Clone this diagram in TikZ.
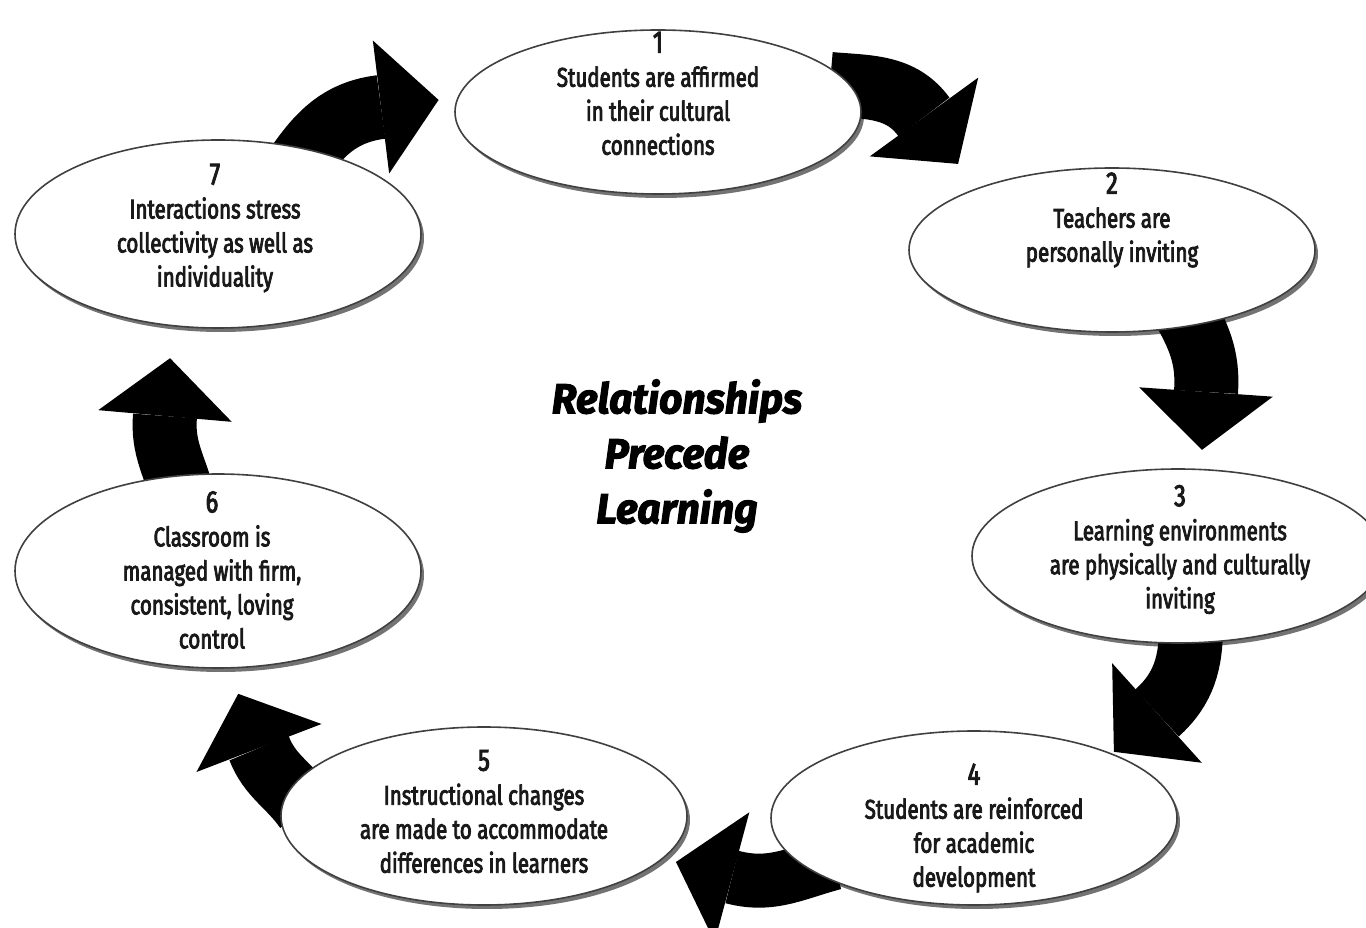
\documentclass[tikz,border=0pt]{standalone}
\usepackage{fontspec}
\setmainfont{Fira Sans}[FakeStretch=0.76,FakeBold=3]
\newfontfamily\titlefont{Fira Sans}[FakeStretch=0.97,FakeBold=2.5]
\usetikzlibrary{arrows.meta,shapes.geometric,shadows,calc}
\pgfdeclarelayer{background}
\pgfsetlayers{background,main}
\definecolor{rimgray}{gray}{0.25}
\newcommand\stagenum[1]{{\fontsize{31}{34}\selectfont #1}}

\tikzset{
  stage/.style={ellipse, draw=rimgray, line width=1.6pt, fill=white, inner sep=0pt,
    minimum width=406pt, drop shadow={shadow xshift=3pt, shadow yshift=-4pt, fill=black, opacity=0.55}},
  stagetext/.style={align=center, text=black!90, font=\fontsize{27}{34}\selectfont},
  bigarrow/.style={line width=64pt, shorten >=-58pt, -{Triangle[width=134pt,length=58pt,line width=0pt]}}
}

\begin{document}
\begin{tikzpicture}[x=1pt,y=1pt]
\useasboundingbox (0,0) rectangle (1366,927);

% the seven stages
\node[stage, minimum height=164pt] (e1) at (658,815) {};
\node[stage, minimum height=164pt] (e2) at (1112,677) {};
\node[stage, minimum height=174pt, minimum width=412pt] (e3) at (1178,371) {};
\node[stage, minimum height=174pt] (e4) at (974,109) {};
\node[stage, minimum height=178pt] (e5) at (484,111) {};
\node[stage, minimum height=194pt] (e6) at (218,356) {};
\node[stage, minimum height=188pt] (e7) at (218,693) {};

\node[stagetext] (t1) at (658,833.5) {\stagenum{1}\\Students are affirmed\\in their cultural\\connections};
\node[stagetext] (t2) at (1112,707) {\stagenum{2}\\Teachers are\\personally inviting};
\node[stagetext] (t3) at (1180,377.5) {\stagenum{3}\\Learning environments\\are physically and culturally\\inviting};
\node[stagetext] (t4) at (974,99) {\stagenum{4}\\Students are reinforced\\for academic\\development};
\node[stagetext] (t5) at (484,115.5) {\stagenum{5}\\Instructional changes\\are made to accommodate\\differences in learners};
\node[stagetext] (t6) at (212,357) {\stagenum{6}\\Classroom is\\managed with firm,\\consistent, loving\\control};
\node[stagetext] (t7) at (215,699) {\stagenum{7}\\Interactions stress\\collectivity as well as\\individuality};

% centre title
\node[align=center, font=\titlefont\bfseries\itshape\fontsize{42}{55}\selectfont] (title) at (677,471)
  {Relationships\\Precede\\Learning};

% arrows between the stages (ending at the head base)
\begin{pgfonlayer}{background}
\draw[bigarrow] ($(e1)+(172,28)$) to[out=-5,in=126] ($(e2)+(-188,133)$);
\draw[bigarrow] ($(e2)+(69,-55)$) to[out=-60,in=86] ($(e3)+(28,164)$);
\draw[bigarrow] ($(e3)+(13,-70)$) to[out=-90,in=42] ($(e4)+(183,105)$);
\draw[bigarrow, line width=54pt] ($(e4)+(-140,-45)$) to[out=195,in=-15] ($(e5)+(248,-61)$);
\draw[bigarrow] ($(e5)+(-178,7)$) to[out=125,in=-69] ($(e6)+(41,-177)$);
\draw[bigarrow] ($(e6)+(-35,74)$) to[out=105,in=-95] ($(e7)+(-53,-182)$);
\draw[bigarrow] ($(e7)+(81,71)$) to[out=55,in=-173] ($(e1)+(-277,5)$);
\end{pgfonlayer}

\end{tikzpicture}
\end{document}
